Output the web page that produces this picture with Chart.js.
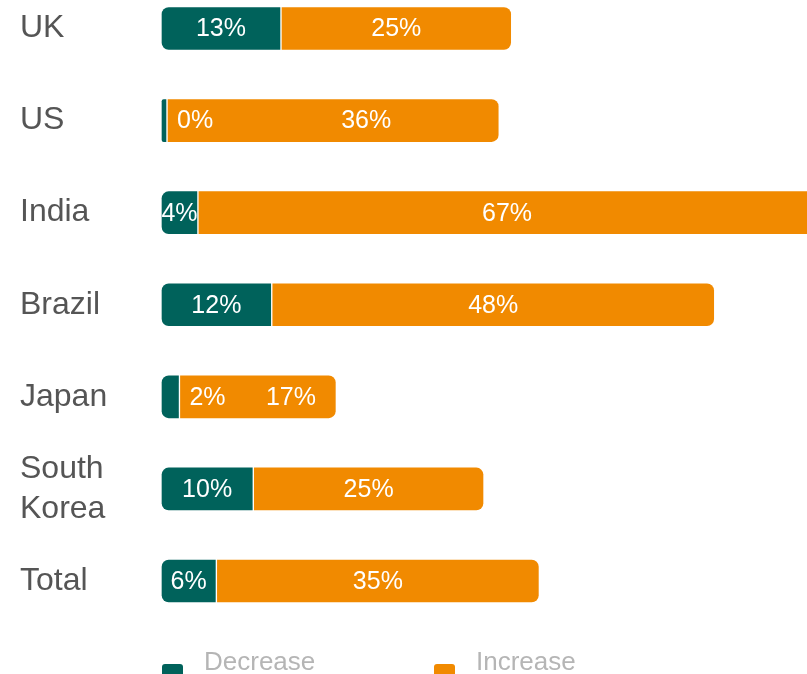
<html>

<head>
    <script src="https://cdn.jsdelivr.net/npm/chart.js@4"></script>
    <style>
        body { margin: 0; background: #fff; }
    </style>
</head>

<body>
<div style="width:807px;height:674px">
<canvas id="myChart"></canvas>
</div>
</body>
<script>
    var countries = ["UK", "US", "India", "Brazil", "Japan", ["South", "Korea"], "Total"];
    var decrease = [13, 0, 4, 12, 2, 10, 6];
    var increase = [25, 36, 67, 48, 17, 25, 35];
    var seriesNames = ["Decrease", "Increase"];
    var teal = "#00625b";
    var orange = "#f18a00";

    // percentage text written on top of each segment
    var barLabels = {
        id: "barLabels",
        afterDatasetsDraw: function (chart) {
            var ctx = chart.ctx;
            ctx.save();
            ctx.font = "25px 'Liberation Sans', Arial, sans-serif";
            ctx.fillStyle = "#fff";
            ctx.textBaseline = "middle";
            var metas = chart.getSortedVisibleDatasetMetas();
            for (var i = 0; i < countries.length; i++) {
                var usedTo = -1;
                metas.forEach(function (meta) {
                    var bar = meta.data[i];
                    var v = chart.data.datasets[meta.index].data[i];
                    var txt = v + "%";
                    var left = Math.min(bar.base, bar.x), right = Math.max(bar.base, bar.x);
                    var w = ctx.measureText(txt).width;
                    if (w <= right - left + 2 && usedTo < left) {
                        ctx.textAlign = "center";
                        ctx.fillText(txt, (left + right) / 2, bar.y + 1);
                    } else if (usedTo >= left) {
                        // previous label spilled in here, centre in what's left
                        ctx.textAlign = "center";
                        ctx.fillText(txt, (usedTo + right) / 2 + 10, bar.y + 1);
                    } else {
                        ctx.textAlign = "left";
                        ctx.fillText(txt, right + 10, bar.y + 1);
                        usedTo = right + 10 + w;
                    }
                });
            }
            ctx.restore();
        }
    };

    // legend row under the bars
    var bottomLegend = {
        id: "bottomLegend",
        afterDraw: function (chart) {
            var ctx = chart.ctx;
            var area = chart.chartArea;
            ctx.save();
            ctx.font = "26px 'Liberation Sans', Arial, sans-serif";
            ctx.textBaseline = "alphabetic";
            chart.data.datasets.forEach(function (ds, k) {
                var x = area.left + 1 + k * 272;
                ctx.fillStyle = ds.backgroundColor;
                ctx.beginPath();
                ctx.roundRect(x, 664, 21, 21, 3);
                ctx.fill();
                ctx.fillStyle = "#b5b5b5";
                ctx.textAlign = "left";
                ctx.fillText(ds.label, x + 42, 670);
            });
            ctx.restore();
        }
    };

    var ctx = document.getElementById("myChart").getContext("2d");
    var chart = new Chart(ctx, {
        type: "bar",
        data: {
            labels: countries,
            datasets: [
                {
                    label: seriesNames[0],
                    data: decrease,
                    backgroundColor: teal,
                    minBarLength: 6,
                    borderRadius: { topLeft: 8, bottomLeft: 8, topRight: 0, bottomRight: 0 }
                },
                {
                    label: seriesNames[1],
                    data: increase,
                    backgroundColor: orange,
                    borderRadius: { topLeft: 0, bottomLeft: 0, topRight: 8, bottomRight: 8 }
                }
            ]
        },
        options: {
            indexAxis: "y",
            animation: false,
            responsive: true,
            maintainAspectRatio: false,
            layout: { padding: { left: 20, top: 28.5, bottom: 93, right: 0 } },
            datasets: {
                bar: {
                    barThickness: 44,
                    borderWidth: 1,
                    borderColor: "#fff",
                    borderSkipped: false,
                    clip: { left: false, top: false, right: 0, bottom: false }
                }
            },
            scales: {
                x: {
                    stacked: true,
                    min: 0,
                    max: 70,
                    display: false
                },
                y: {
                    stacked: true,
                    offset: false,
                    grid: { display: false },
                    border: { display: false },
                    afterFit: function (scale) { scale.width = 141; },
                    ticks: {
                        crossAlign: "far",
                        color: "#555",
                        font: { family: "'Liberation Sans', Arial, sans-serif", size: 32, lineHeight: 1.25 }
                    }
                }
            },
            plugins: {
                legend: { display: false },
                tooltip: { enabled: false }
            }
        },
        plugins: [barLabels, bottomLegend]
    });
</script>

</html>
